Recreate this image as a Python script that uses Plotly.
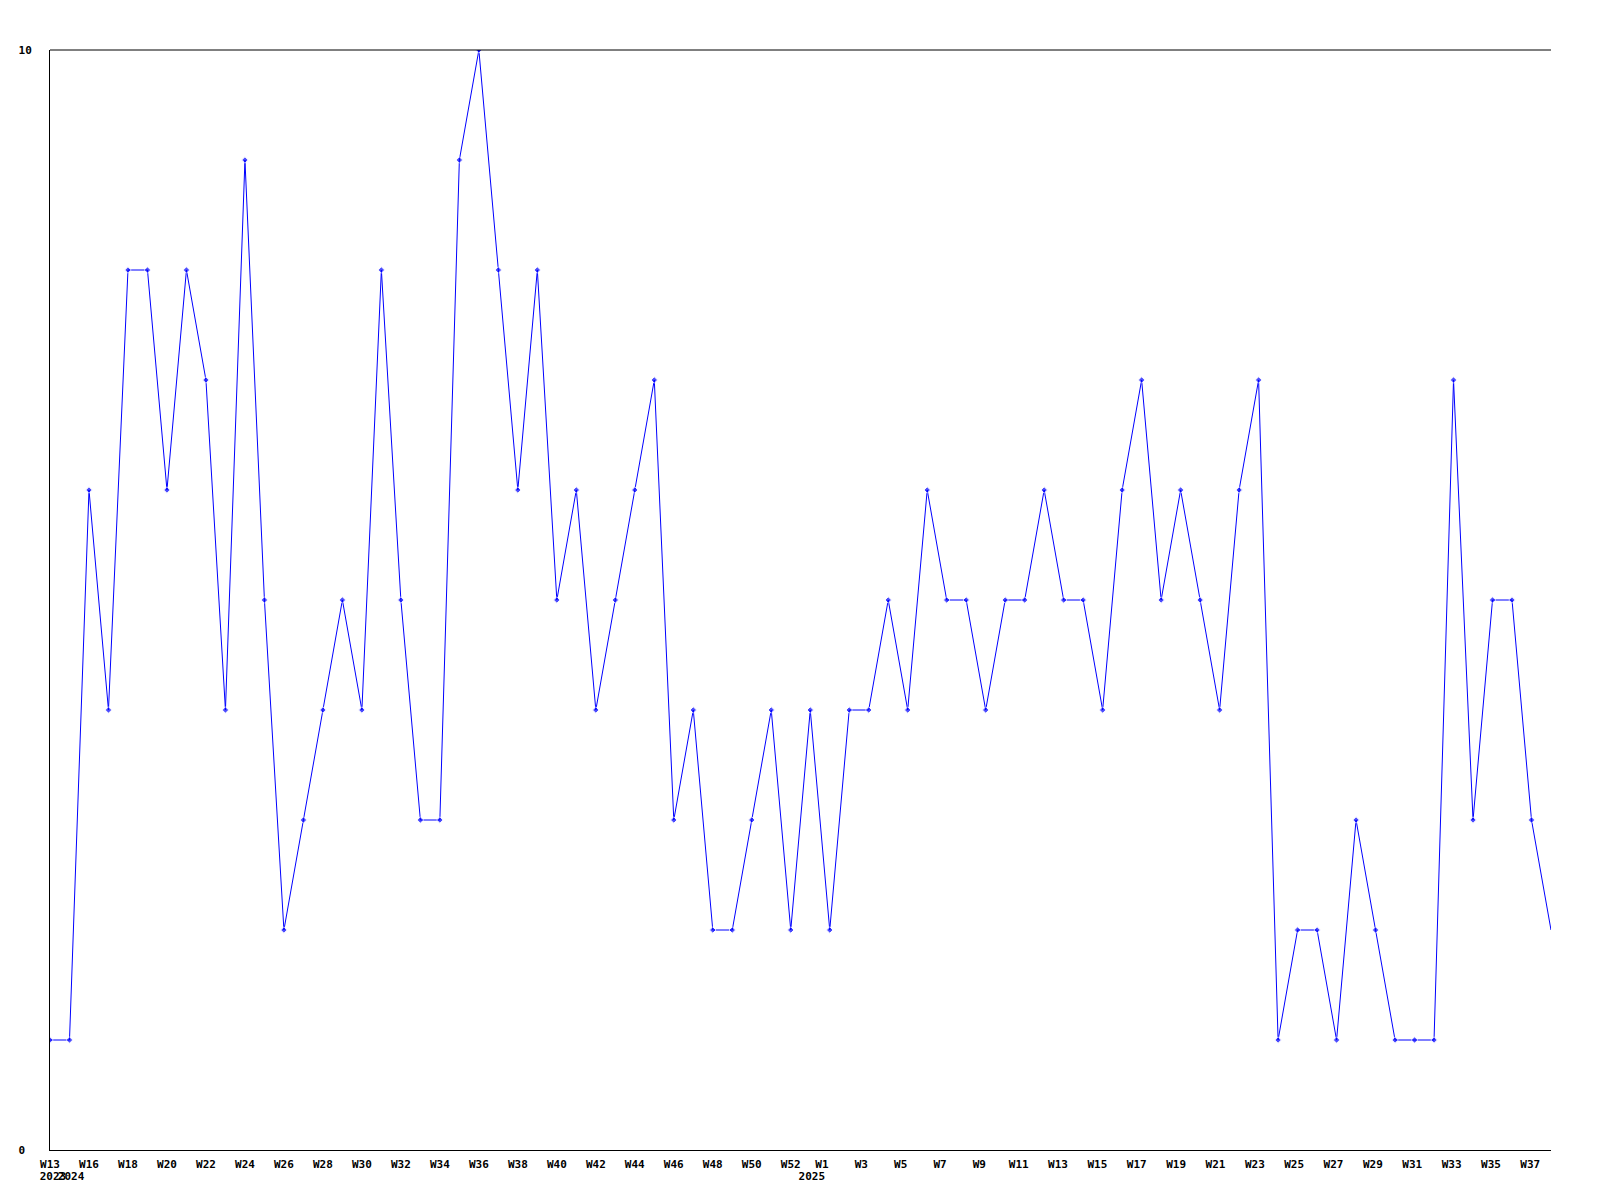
import plotly.graph_objects as go

# Weekly values (index 0 = first week shown)
values = [1, 1, 6, 4, 8, 8, 6, 8, 7, 4, 9, 5, 2, 3, 4, 5, 4, 8, 5, 3,
          3, 9, 10, 8, 6, 8, 5, 6, 4, 5, 6, 7, 3, 4, 2, 2, 3, 4, 2, 4,
          2, 4, 4, 5, 4, 6, 5, 5, 4, 5, 5, 6, 5, 5, 4, 6, 7, 5, 6, 5,
          4, 6, 7, 1, 2, 2, 1, 3, 2, 1, 1, 1, 7, 3, 5, 5, 3, 2]

week_labels_2024 = ["W13", "W16", "W18", "W20", "W22", "W24", "W26", "W28", "W30",
                    "W32", "W34", "W36", "W38", "W40", "W42", "W44", "W46", "W48",
                    "W50", "W52"]
week_idx_2024 = [0, 2, 4, 6, 8, 10, 12, 14, 16, 18, 20, 22, 24, 26, 28, 30, 32, 34, 36, 38]

week_labels_2025 = ["W1", "W3", "W5", "W7", "W9", "W11", "W13", "W15", "W17", "W19",
                    "W21", "W23", "W25", "W27", "W29", "W31", "W33", "W35", "W37"]
week_nums_2025 = [1, 3, 5, 7, 9, 11, 13, 15, 17, 19, 21, 23, 25, 27, 29, 31, 33, 35, 37]

year_labels = ["2023", "2024", "2025"]
year_pos = [0.15, 1.08, 39.08]

y_tick_vals = [0, 10]
y_tick_text = ["0\u00a0", "10"]  # left-aligned look as in reference

x = list(range(len(values)))

# tick positions for 2025 labels (offset from data index as drawn in reference)
pos_2025 = [39.6 + (w - 1) * 1.0094 for w in week_nums_2025]

tickvals = week_idx_2024 + pos_2025
ticktext = week_labels_2024 + week_labels_2025

sizes = [5] * (len(values) - 1) + [0]

fig = go.Figure()
fig.add_trace(go.Scatter(
    x=x, y=values, mode="lines+markers",
    line=dict(color="#0000ff", width=1),
    marker=dict(symbol="diamond", size=sizes, color="#0000ff"),
    showlegend=False, hoverinfo="skip",
))
# invisible trace to activate the second x axis (year labels)
fig.add_trace(go.Scatter(x=[0], y=[0], xaxis="x2", mode="markers",
                         marker=dict(opacity=0), showlegend=False, hoverinfo="skip"))

tf = dict(family="DejaVu Sans Mono", size=11, color="black", weight="bold")

fig.update_layout(
    width=1600, height=1200,
    # page body adds an 8px offset; compensate so the plot area sits at 50..1551 / 50..1150
    margin=dict(l=42, r=57, t=42, b=58, autoexpand=False),
    paper_bgcolor="white", plot_bgcolor="white",
    font=dict(family="DejaVu Sans Mono", size=11, color="black"),
    xaxis=dict(
        range=[0, len(values) - 1], showgrid=False, zeroline=False,
        showline=True, linecolor="black", linewidth=1, mirror=False,
        tickmode="array", tickvals=tickvals, ticktext=ticktext,
        ticks="", ticklabelstandoff=4, tickangle=0, automargin=False,
        tickfont=tf,
    ),
    xaxis2=dict(
        overlaying="x", side="bottom", anchor="y",
        range=[0, len(values) - 1], showgrid=False, zeroline=False, showline=False,
        tickmode="array", tickvals=year_pos, ticktext=year_labels,
        ticks="", ticklabelstandoff=18, tickangle=0, automargin=False,
        tickfont=tf,
    ),
    yaxis=dict(
        range=[0, 10], showgrid=False, zeroline=False,
        showline=True, linecolor="black", linewidth=1,
        tickmode="array", tickvals=y_tick_vals, ticktext=y_tick_text,
        ticks="", ticklabelstandoff=15, automargin=False,
        tickfont=tf,
    ),
    shapes=[dict(type="line", xref="paper", yref="paper", x0=0, x1=1, y0=1, y1=1,
                 line=dict(color="black", width=1))],
)

fig.write_html("out.html")
